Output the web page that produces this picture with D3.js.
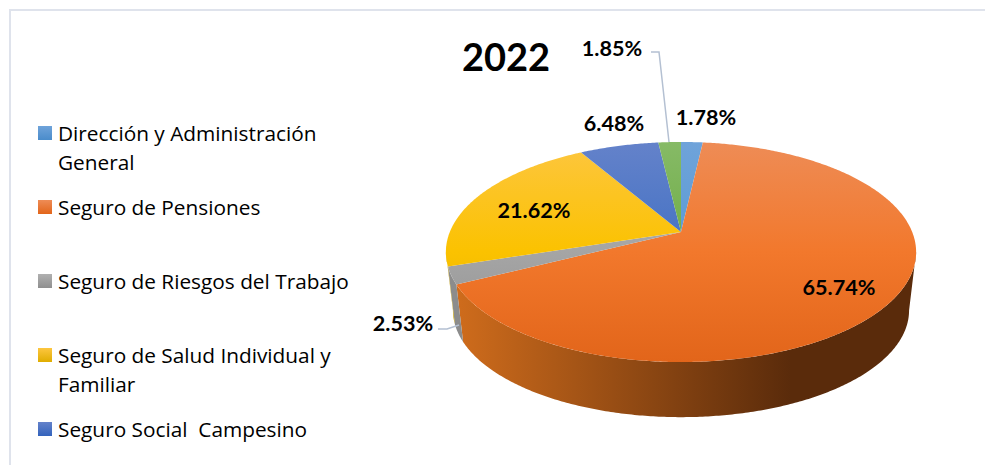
<!DOCTYPE html>
<html>
<head>
<meta charset="utf-8">
<script src="https://cdn.jsdelivr.net/npm/d3@7"></script>
<style>
html, body { margin: 0; padding: 0; background: #fff; }
svg { display: block; }
text { fill: #000; }
</style>
</head>
<body>
<div id="chart"></div>
<script>
var title = "2022";
var categories = ["Dirección y Administración General", "Seguro de Pensiones", "Seguro de Riesgos del Trabajo", "Seguro de Salud Individual y Familiar", "Seguro Social  Campesino", "Seguro Social Adicional"];
var values = [1.78, 65.74, 2.53, 21.62, 6.48, 1.85];
var legendLines = [["Dirección y Administración", "General"], ["Seguro de Pensiones"], ["Seguro de Riesgos del Trabajo"], ["Seguro de Salud Individual y", "Familiar"], ["Seguro Social  Campesino"]];
var legendRows = [134, 208, 282, 356, 430];
// top of gradient, middle, bottom
var faceColors = [["#6fa3da", "#5b9bd5", "#4a8ccb"], ["#ee8c56", "#f2782c", "#e2651a"], ["#b0b0b0", "#a5a5a5", "#8f8f8f"], ["#fdc640", "#fbc200", "#e0ad00"], ["#6482ca", "#4472c4", "#3363bc"], ["#86ba66", "#70ad47", "#65a03e"]];
var wallColors = [["#3f7cb0", "#3f7cb0"], ["#cf6c1c", "#5a2b0b"], ["#8c8c8c", "#7c7c7c"], ["#c9a000", "#b08c00"], ["#2f5597", "#2f5597"], ["#548235", "#548235"]];

var width = 985, height = 465;
var cx = 681, cy = 232;
var a = 231.2, b = 106.4, k = 0.1818;
var depth = 59, bottomScale = 0.97;

var svg = d3.select("#chart").append("svg")
	.attr("width", width)
	.attr("height", height);
var defs = svg.append("defs");

// frame, only top and left are inside the picture
svg.append("path")
	.attr("d", "M985,10H10V465")
	.attr("fill", "none")
	.attr("stroke", "#dfe3ec")
	.attr("stroke-width", 2);

var pie = d3.pie().sort(null).value(function(d) { return d; });
var arcs = pie(values);

// perspective view of the circle, angle 0 is at the back and goes clockwise
function project(angle, level) {
	var u = -Math.cos(angle), v = Math.sin(angle);
	var w = 1 - k * u;
	var s = level ? bottomScale : 1;
	return [cx + s * a * v / w, cy + (level ? depth : 0) + s * b * u / w];
}

function samples(start, end) {
	var n = Math.max(2, Math.ceil((end - start) / 0.01));
	return d3.range(n + 1).map(function(i) { return start + (end - start) * i / n; });
}

var line = d3.line();

values.forEach(function(d, i) {
	var face = defs.append("linearGradient")
		.attr("id", "face" + i)
		.attr("gradientUnits", "userSpaceOnUse")
		.attr("x1", 0).attr("x2", 0)
		.attr("y1", cy - 90).attr("y2", cy + 130);
	faceColors[i].forEach(function(c, j) {
		face.append("stop").attr("offset", j / 2).attr("stop-color", c);
	});
	var wall = defs.append("linearGradient")
		.attr("id", "wall" + i)
		.attr("gradientUnits", "userSpaceOnUse")
		.attr("x1", cx - 225).attr("x2", cx + 110)
		.attr("y1", 0).attr("y2", 0);
	wallColors[i].forEach(function(c, j) {
		wall.append("stop").attr("offset", j).attr("stop-color", c);
	});
});

// only the part of the wall between the two silhouette angles can be seen
var rim = Math.acos(-k);
var walls = svg.append("g");
arcs.forEach(function(d, i) {
	var start = Math.max(d.startAngle, rim);
	var end = Math.min(d.endAngle, 2 * Math.PI - rim);
	if (end <= start) return;
	var angles = samples(start, end);
	var pts = angles.map(function(t) { return project(t, 0); })
		.concat(angles.slice().reverse().map(function(t) { return project(t, 1); }));
	walls.append("path")
		.attr("d", line(pts) + "Z")
		.attr("fill", "url(#wall" + i + ")");
});

var faces = svg.append("g");
arcs.forEach(function(d, i) {
	var pts = [[cx, cy]].concat(samples(d.startAngle, d.endAngle).map(function(t) { return project(t, 0); }));
	faces.append("path")
		.attr("d", line(pts) + "Z")
		.attr("fill", "url(#face" + i + ")");
});

// leader lines
var leaders = [
	[[651, 52], [659, 52], [669, 142]],
	[[438, 329], [447, 329], [459, 325]]
];
svg.append("g").selectAll("path")
	.data(leaders)
	.enter().append("path")
	.attr("d", function(d) { return line(d); })
	.attr("fill", "none")
	.attr("stroke", "#b4c0d2")
	.attr("stroke-width", 1.5);

svg.append("text")
	.attr("x", 506).attr("y", 71)
	.attr("text-anchor", "middle")
	.attr("font-family", "Lato")
	.attr("font-weight", "bold")
	.attr("font-size", 38)
	.text(title);

var labelPos = [[706, 125], [839, 295], [403, 331], [534, 218], [614, 131], [612, 56]];
svg.append("g").selectAll("text")
	.data(values)
	.enter().append("text")
	.attr("x", function(d, i) { return labelPos[i][0]; })
	.attr("y", function(d, i) { return labelPos[i][1]; })
	.attr("text-anchor", "middle")
	.attr("font-family", "Lato")
	.attr("font-weight", "bold")
	.attr("font-size", 21.6)
	.text(function(d) { return d.toFixed(2) + "%"; });

var legend = svg.append("g").selectAll("g")
	.data(legendLines)
	.enter().append("g")
	.attr("transform", function(d, i) { return "translate(38," + legendRows[i] + ")"; });

legend.append("rect")
	.attr("y", -8)
	.attr("width", 14)
	.attr("height", 14)
	.attr("fill", function(d, i) { return "url(#legend" + i + ")"; });

legendLines.forEach(function(d, i) {
	var g = defs.append("linearGradient")
		.attr("id", "legend" + i)
		.attr("x1", 0).attr("x2", 0).attr("y1", 0).attr("y2", 1);
	g.append("stop").attr("offset", 0).attr("stop-color", faceColors[i][0]);
	g.append("stop").attr("offset", 1).attr("stop-color", faceColors[i][2]);
});

legend.selectAll("text")
	.data(function(d) { return d; })
	.enter().append("text")
	.attr("x", 20)
	.attr("y", function(d, i) { return 7 + i * 29; })
	.attr("font-family", "'Open Sans'")
	.attr("font-size", 20.8)
	.attr("xml:space", "preserve")
	.style("white-space", "pre")
	.text(function(d) { return d; });
</script>
</body>
</html>
